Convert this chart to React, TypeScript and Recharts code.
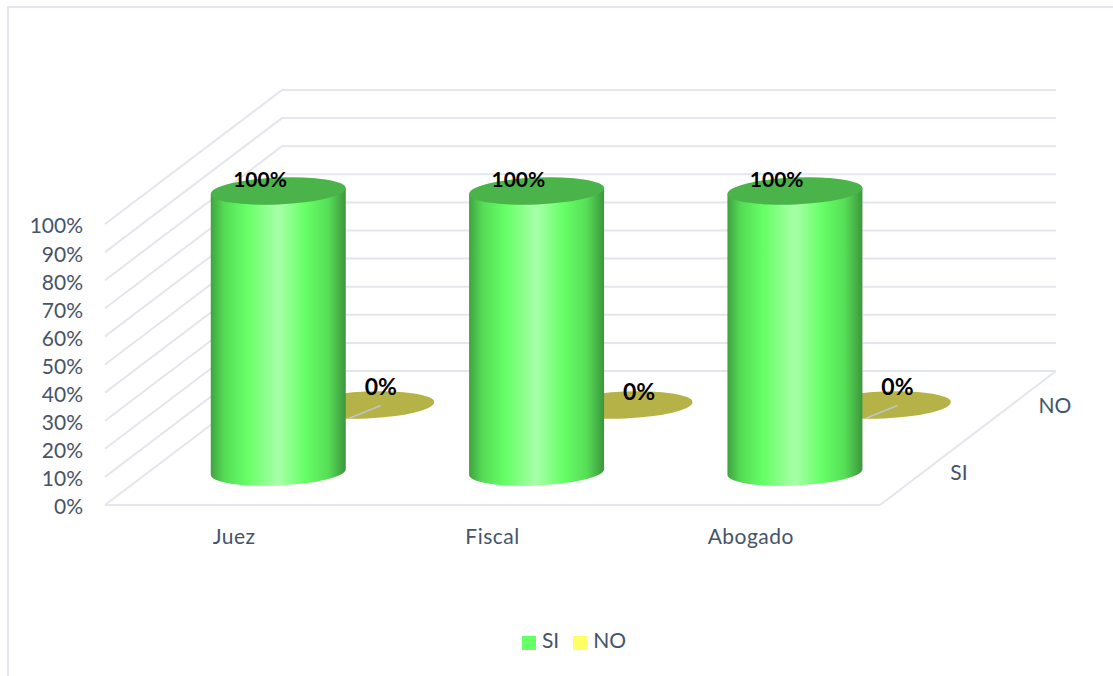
import React from "react";
import { BarChart, Bar, XAxis, YAxis, CartesianGrid, Legend, LabelList } from "recharts";

const categories = ["Juez", "Fiscal", "Abogado"];
const siValues = [100, 100, 100];
const noValues = [0, 0, 0];
const yTicks = [0, 10, 20, 30, 40, 50, 60, 70, 80, 90, 100];
const depthLabels = ["SI", "NO"];

const data = categories.map((name, i) => ({ name, SI: siValues[i], NO: noValues[i] }));

// floor depth of the fake 3D box
const DEPTH_X = 177;
const DEPTH_Y = 134;
const RX = 67.5;
const RY = 13.5;
const TILT = 3;
const GRID = "#E3E6EC";
const TEXT = "#44546A";
const FONT = "Lato, Carlito, sans-serif";

// the first and third 0% labels carry a leader line, the middle one sits lower
const noLabelDrop = [0, 5, 0];

function Cylinder(props: any) {
  const { x, y, width, height, row, side, top } = props;
  const cx = x + width / 2 + (DEPTH_X * row) / 4;
  const yTop = y - (DEPTH_Y * row) / 4 + 0.5;
  const yBase = yTop + height;
  const l = cx - RX;
  const r = cx + RX;
  return (
    <g>
      {height > 0 && (
        <path
          d={`M${l},${yTop + TILT} L${l},${yBase + TILT} A${RX},${RY} -2.5 0 0 ${r},${yBase - TILT} L${r},${yTop - TILT} Z`}
          fill={side}
        />
      )}
      <ellipse cx={cx} cy={yTop} rx={RX} ry={RY} fill={top} transform={`rotate(-2.5 ${cx} ${yTop})`} />
    </g>
  );
}

function SiLabel(props: any) {
  const { x, y, width, value } = props;
  return (
    <text x={x + width / 2 + 26} y={y - 37} textAnchor="middle" fontFamily={FONT} fontWeight={700} fontSize={21} fill="#000">
      {`${value}%`}
    </text>
  );
}

function NoLabel(props: any) {
  const { x, y, width, value, index } = props;
  const cx = x + width / 2 + (DEPTH_X * 3) / 4;
  const base = y - (DEPTH_Y * 3) / 4;
  return (
    <g>
      {index !== 1 && <line x1={cx - 18} y1={base + 14} x2={cx + 14} y2={base + 1} stroke="#BFC4CE" strokeWidth={1.5} />}
      <text x={cx + 14} y={base - 10 + noLabelDrop[index]} textAnchor="middle" fontFamily={FONT} fontWeight={700} fontSize={23} fill="#000">
        {`${value}%`}
      </text>
    </g>
  );
}

function WallLine(props: any) {
  const { x1, y1, x2, y2, index } = props;
  const bx = x1 + DEPTH_X;
  const by = y1 - DEPTH_Y;
  const ex = x2 + DEPTH_X - 1;
  return (
    <g>
      <polyline points={`${x1},${y1} ${bx},${by} ${ex},${by}`} fill="none" stroke={GRID} strokeWidth={2} />
      {index === 0 && (
        <polyline points={`${x1},${y2} ${x2},${y2} ${ex},${by}`} fill="none" stroke={GRID} strokeWidth={2} />
      )}
    </g>
  );
}

export default function App() {
  return (
    <div style={{ position: "absolute", left: 0, top: 0, width: 1113, height: 676, background: "#fff", overflow: "hidden" }}>
      <BarChart
        width={1113}
        height={676}
        data={data}
        barSize={134}
        barGap={-134}
        margin={{ top: 224, right: 233, bottom: 106, left: 5 }}
      >
        <defs>
          <linearGradient id="siSide" x1="0" y1="0" x2="1" y2="0">
            <stop offset="0" stopColor="#3FA33F" />
            <stop offset="0.1" stopColor="#55DC55" />
            <stop offset="0.27" stopColor="#66FF66" />
            <stop offset="0.5" stopColor="#A8FFA8" />
            <stop offset="0.7" stopColor="#66FF66" />
            <stop offset="0.87" stopColor="#57DE57" />
            <stop offset="1" stopColor="#3C963C" />
          </linearGradient>
        </defs>
        <rect x={8} y={7} width={1300} height={900} fill="none" stroke={GRID} strokeWidth={2} />
        <CartesianGrid vertical={false} horizontal={(p: any) => <WallLine key={p.index} {...p} />} />
        <XAxis
          dataKey="name"
          axisLine={false}
          tickLine={false}
          tickMargin={18}
          height={40}
          tick={{ fill: TEXT, fontFamily: FONT, fontSize: 21, letterSpacing: 0.5 }}
        />
        <YAxis
          domain={[0, 100]}
          ticks={yTicks}
          interval={0}
          width={100}
          axisLine={false}
          tickLine={false}
          tickMargin={16}
          tickFormatter={(v) => `${v}%`}
          tick={{ fill: TEXT, fontFamily: FONT, fontSize: 21, dy: 2 }}
        />
        {/* NO goes first so the SI cylinders cover it */}
        <Bar
          dataKey="NO"
          fill="#FFFF66"
          isAnimationActive={false}
          shape={(p: any) => <Cylinder {...p} row={3} side="#B5B347" top="#B5B347" />}
        >
          <LabelList dataKey="NO" content={NoLabel} />
        </Bar>
        <Bar
          dataKey="SI"
          fill="#66FF66"
          isAnimationActive={false}
          shape={(p: any) => <Cylinder {...p} row={1} side="url(#siSide)" top="#4AB34A" />}
        >
          <LabelList dataKey="SI" content={SiLabel} />
        </Bar>
        {depthLabels.map((label, i) => (
          <text
            key={label}
            x={880 + 79 + i * 96}
            y={480 - i * 67}
            textAnchor="middle"
            fontFamily={FONT}
            fontSize={21}
            fill={TEXT}
          >
            {label}
          </text>
        ))}
        <Legend
          iconType="square"
          iconSize={14}
          itemSorter={(item: any) => (item.value === "SI" ? 0 : 1)}
          wrapperStyle={{ left: 0, width: 1162, top: 627, fontFamily: FONT, fontSize: 21 }}
          formatter={(value) => <span style={{ color: TEXT, marginLeft: 2, marginRight: 4 }}>{value}</span>}
        />
      </BarChart>
    </div>
  );
}
